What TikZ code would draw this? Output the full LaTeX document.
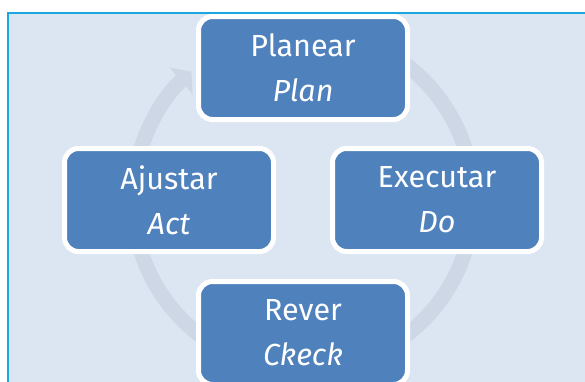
\documentclass[tikz,border=0pt]{standalone}
\usepackage{fontspec}
\setmainfont{Fira Sans}
\usetikzlibrary{arrows.meta}
\definecolor{bg}{HTML}{DCE6F2}
\definecolor{ringc}{HTML}{CDD7E6}
\definecolor{boxc}{HTML}{4F81BD}
\definecolor{framec}{HTML}{1AA7E0}
\begin{document}
\begin{tikzpicture}[x=1pt,y=-1pt,
  stage/.style={draw=white, line width=5pt, fill=boxc, rounded corners=14pt,
    minimum width=209pt, minimum height=103pt, text=white,
    font=\fontsize{30.5}{45}\selectfont, align=center, inner sep=0pt},
  ring/.style={draw=ringc, line width=15pt, -{Triangle[width=35pt,length=14pt]}}]
\useasboundingbox (0,0) rectangle (585,381);
\clip (0,0) rectangle (585,381);
\fill[white] (0,0) rectangle (585,381);
\fill[bg] (8,13) rectangle (590,390);
\draw[framec, line width=1.5pt] (8,390) -- (8,13) -- (590,13);
\coordinate (c) at (303,200);
\draw[ring] (c) ++(-75:170) arc[start angle=-75, end angle=229, radius=170];
\node[stage] (plan) at (303,68) {Planear\\\textit{Plan}};
\node[stage] (act) at (169,200) {Ajustar\\\textit{Act}};
\node[stage] (do) at (437,200) {Executar\\\textit{Do}};
\node[stage] (check) at (303,333) {Rever\\\textit{Ckeck}};
\end{tikzpicture}
\end{document}
